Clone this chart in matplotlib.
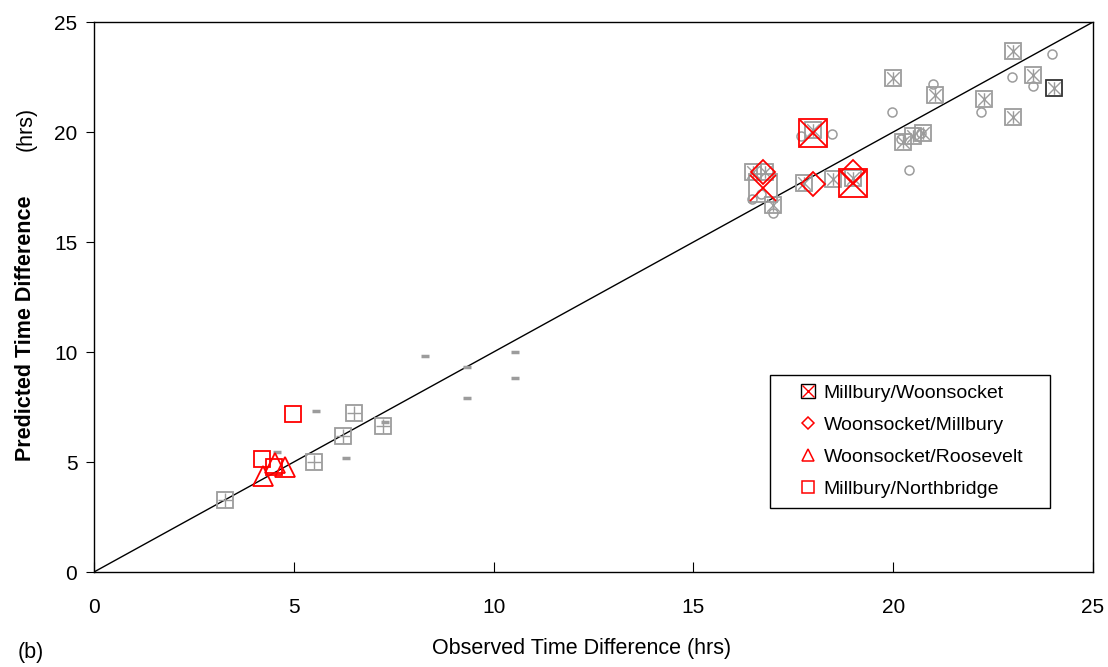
import matplotlib
matplotlib.use("Agg")
import matplotlib.pyplot as plt
from matplotlib.lines import Line2D
from matplotlib.patches import Rectangle
from matplotlib.path import Path

plt.rcParams["font.family"] = ["Liberation Sans", "DejaVu Sans"]

# gray squares with asterisk (upper cluster)
ast_x = [23.0, 20.0, 21.05, 22.27, 23.5, 23.0, 20.75, 20.5, 20.25, 18.0,
         16.5, 16.8, 17.0, 17.77, 18.5, 19.0]
ast_y = [23.68, 22.45, 21.7, 21.5, 22.6, 20.7, 19.95, 19.8, 19.55, 20.1,
         18.2, 18.2, 16.7, 17.7, 17.85, 17.9]
# the one with a dark box
dark_x = [24.02]
dark_y = [22.0]

# gray circles
circ_x = [23.97, 22.97, 23.5, 21.0, 19.97, 22.2, 20.2, 20.7, 20.4, 17.7,
          18.47, 16.47, 16.7, 17.0]
circ_y = [23.55, 22.5, 22.1, 22.2, 20.9, 20.9, 19.7, 19.95, 18.27, 19.8,
          19.9, 16.95, 17.2, 16.3]

# gray squares with plus (lower cluster)
plus_x = [3.28, 5.5, 6.24, 6.5, 7.24]
plus_y = [3.27, 5.0, 6.17, 7.23, 6.64]

# gray dashes
dash_x = [5.55, 4.58, 6.3, 7.28, 8.28, 9.33, 9.33, 10.53, 10.53]
dash_y = [7.32, 5.45, 5.18, 6.8, 9.82, 9.3, 7.9, 10.0, 8.8]

# red series
mw_x = [18.0, 19.0, 16.75]          # Millbury/Woonsocket
mw_y = [19.95, 17.7, 17.45]
wm_x = [16.75, 18.0, 19.0]          # Woonsocket/Millbury
wm_y = [18.2, 17.65, 18.2]
wr_x = [4.24, 4.53, 4.78]           # Woonsocket/Roosevelt
wr_y = [4.35, 4.95, 4.78]
mn_x = [4.97, 4.2, 4.5]             # Millbury/Northbridge
mn_y = [7.18, 5.13, 4.78]

labels = ["Millbury/Woonsocket", "Woonsocket/Millbury",
          "Woonsocket/Roosevelt", "Millbury/Northbridge"]

GRAY = "#9c9c9c"
RED = "#ff0000"

# asterisk: X plus a vertical bar
asterisk = Path([(-1, -1), (1, 1), (-1, 1), (1, -1), (0, -1), (0, 1)],
                [Path.MOVETO, Path.LINETO, Path.MOVETO, Path.LINETO,
                 Path.MOVETO, Path.LINETO])

fig = plt.figure(figsize=(11.08, 6.67), dpi=100)
ax = fig.add_axes([0.0848, 0.1424, 0.9017, 0.8246])

ax.plot([0, 25], [0, 25], color="black", lw=1.0, zorder=1)

ax.plot(circ_x, circ_y, "o", ms=6.5, mfc="none", mec=GRAY, mew=1.1, ls="none")
ax.plot(ast_x, ast_y, "s", ms=12, mfc="none", mec=GRAY, mew=1.3, ls="none")
ax.plot(ast_x, ast_y, marker=asterisk, ms=9, color=GRAY, mew=1.0, ls="none")
ax.plot(dark_x, dark_y, "s", ms=12, mfc="none", mec="#333333", mew=1.3, ls="none")
ax.plot(dark_x, dark_y, marker=asterisk, ms=9, color=GRAY, mew=1.0, ls="none")

ax.plot(plus_x, plus_y, "s", ms=12, mfc="none", mec=GRAY, mew=1.3, ls="none")
ax.plot(plus_x, plus_y, "+", ms=10, color=GRAY, mew=1.0, ls="none")
ax.plot(dash_x, dash_y, "_", ms=6, color=GRAY, mew=2.5, ls="none")

box_colors = [RED, RED, GRAY]
for x, y, c in zip(mw_x, mw_y, box_colors):
    ax.plot(x, y, "s", ms=19.5, mfc="none", mec=c, mew=1.3)
ax.plot(mw_x, mw_y, "x", ms=19, color=RED, mew=1.3, ls="none")
ax.plot(wm_x, wm_y, "D", ms=11.8, mfc="none", mec=RED, mew=1.3, ls="none")
ax.plot(wr_x, wr_y, "^", ms=15, mfc="none", mec=RED, mew=1.3, ls="none")
ax.plot(mn_x, mn_y, "s", ms=12, mfc="none", mec=RED, mew=1.3, ls="none")

ax.set_xlim(0, 25)
ax.set_ylim(0, 25)
ax.set_xticks(range(0, 26, 5))
ax.set_yticks(range(0, 26, 5))
ax.tick_params(axis="x", direction="in", length=7, labelsize=15, pad=19)
ax.tick_params(axis="y", direction="out", length=6, labelsize=15, pad=6)
for s in ax.spines.values():
    s.set_linewidth(1.0)

fig.text(0.023, 0.508, "Predicted Time Difference", rotation=90, fontsize=15.5,
         fontweight="bold", ha="center", va="center")
fig.text(0.024, 0.806, "(hrs)", rotation=90, fontsize=15.5, ha="center", va="center")
fig.text(0.525, 0.028, "Observed Time Difference (hrs)", fontsize=15.5,
         ha="center", va="center")
fig.text(0.028, 0.022, "(b)", fontsize=15.5, ha="center", va="center")

# legend: frameless entries inside a hand-drawn box (box is wider than text)
ax.add_patch(Rectangle((0.677, 0.116), 0.28, 0.242, transform=ax.transAxes,
                       facecolor="white", edgecolor="black", lw=1.0, zorder=4))

h_mw = (Line2D([], [], marker="s", ms=10, mfc="none", mec="black", mew=1.0, ls="none"),
        Line2D([], [], marker="x", ms=9, color=RED, mew=1.0, ls="none"))
h_wm = Line2D([], [], marker="D", ms=6, mfc="none", mec=RED, mew=1.1, ls="none")
h_wr = Line2D([], [], marker="^", ms=8, mfc="none", mec=RED, mew=1.1, ls="none")
h_mn = Line2D([], [], marker="s", ms=8, mfc="none", mec=RED, mew=1.1, ls="none")

leg = ax.legend([h_mw, h_wm, h_wr, h_mn], labels, loc="upper left",
                bbox_to_anchor=(0.705, 0.342), fontsize=14, frameon=False,
                handlelength=1.0, handletextpad=0.3, labelspacing=0.75,
                borderpad=0, borderaxespad=0)
leg.set_zorder(5)

fig.savefig("out.png", dpi=100)
